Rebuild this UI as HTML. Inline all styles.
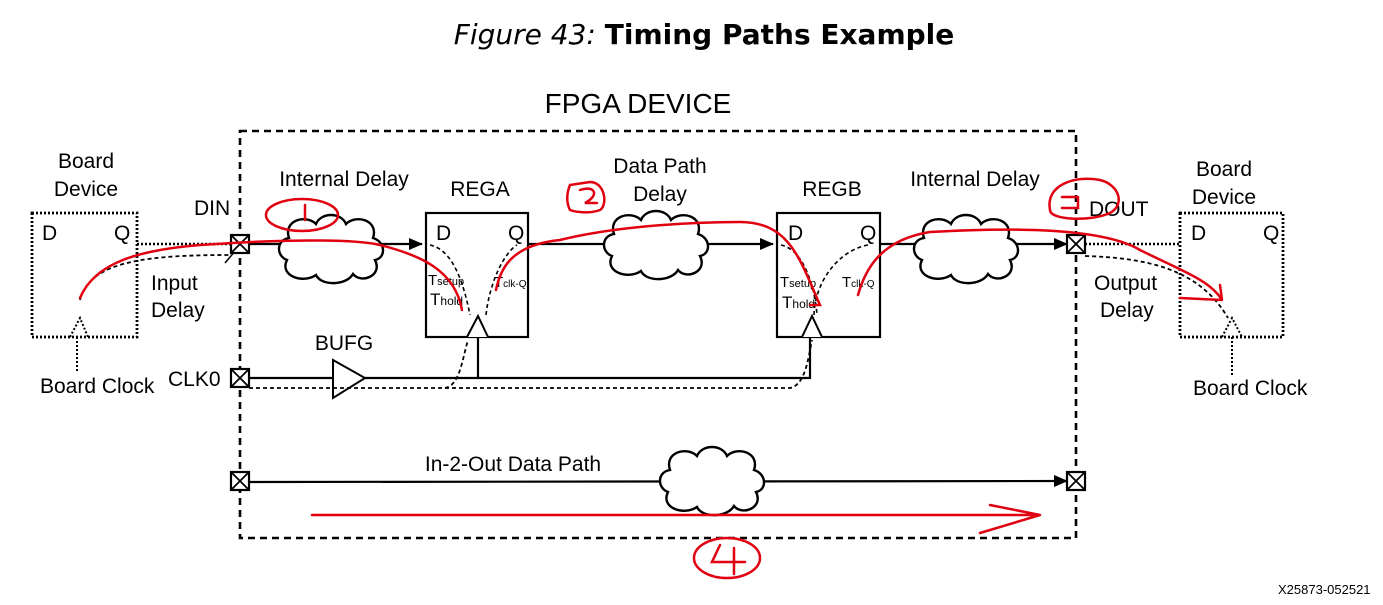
<!DOCTYPE html>
<html><head><meta charset="utf-8"><style>
html,body{margin:0;padding:0;background:#fff;}
svg{display:block;font-family:"Liberation Sans",sans-serif;}
</style></head><body>
<svg width="1383" height="605" viewBox="0 0 1383 605" xmlns="http://www.w3.org/2000/svg">
<defs>
<path id="cloud" d="M-42,-12 C-48,-30 -25,-36 -15,-26 C-10,-38 10,-38 15,-26 C25,-36 48,-30 42,-12 C55,-8 55,8 44,10 C52,26 30,34 22,24 C15,36 -10,36 -15,25 C-28,34 -52,26 -44,10 C-55,6 -55,-10 -42,-12 Z" fill="#fff" stroke="#000" stroke-width="2.4"/>
<marker id="ar" markerWidth="14" markerHeight="12" refX="13" refY="6" orient="auto" markerUnits="userSpaceOnUse"><path d="M0,0 L14,6 L0,12 Z" fill="#000"/></marker>
<g id="pad"><rect x="-9" y="-9" width="18" height="18" fill="#fff" stroke="#000" stroke-width="2.2"/><path d="M-9,-9 L9,9 M9,-9 L-9,9" stroke="#000" stroke-width="1.8"/></g>
</defs>

<text x="704" y="44" font-size="28" text-anchor="middle" font-family="'DejaVu Sans',sans-serif"><tspan font-style="italic">Figure 43:</tspan> <tspan font-weight="bold">Timing Paths Example</tspan></text>
<text x="638" y="113" font-size="28" text-anchor="middle">FPGA DEVICE</text>

<rect x="240" y="131" width="836" height="407" fill="none" stroke="#000" stroke-width="2.6" stroke-dasharray="7,5"/>

<!-- board device left -->
<rect x="32" y="213" width="105" height="124" fill="none" stroke="#000" stroke-width="2.8" stroke-dasharray="2,2"/>
<text x="86" y="168" font-size="21" text-anchor="middle">Board</text>
<text x="86" y="196" font-size="21" text-anchor="middle">Device</text>
<text x="42" y="240" font-size="21">D</text>
<text x="114" y="240" font-size="21">Q</text>
<path d="M70,337 L80,318 L88,337" fill="none" stroke="#000" stroke-width="2" stroke-dasharray="2,2"/>
<line x1="77" y1="337" x2="77" y2="372" stroke="#000" stroke-width="2" stroke-dasharray="2,2"/>
<text x="40" y="393" font-size="21">Board Clock</text>
<line x1="137" y1="244" x2="231" y2="244" stroke="#000" stroke-width="2.4" stroke-dasharray="2,2"/>
<path d="M80,300 C90,260 150,255 232,255" fill="none" stroke="#000" stroke-width="1.8" stroke-dasharray="4,3"/>
<line x1="225" y1="263" x2="236" y2="250" stroke="#000" stroke-width="1.5"/>
<text x="151" y="290" font-size="21">Input</text>
<text x="151" y="317" font-size="21">Delay</text>
<text x="194" y="215" font-size="21">DIN</text>

<!-- data path -->
<line x1="249" y1="244" x2="422" y2="244" stroke="#000" stroke-width="2.2" marker-end="url(#ar)"/>
<use href="#cloud" x="331" y="250"/>
<text x="344" y="186" font-size="21" text-anchor="middle">Internal Delay</text>

<!-- REGA -->
<rect x="426" y="213" width="102" height="124" fill="#fff" stroke="#000" stroke-width="2.2"/>
<text x="480" y="196" font-size="21" text-anchor="middle">REGA</text>
<text x="436" y="240" font-size="21">D</text>
<text x="508" y="240" font-size="21">Q</text>
<text x="428" y="285" font-size="15">T<tspan font-size="11">setup</tspan></text>
<text x="430" y="305" font-size="17">T<tspan font-size="12">hold</tspan></text>
<text x="494" y="287" font-size="15">T<tspan font-size="10">clk-Q</tspan></text>
<path d="M467,337 L478,316 L488,337" fill="#fff" stroke="#000" stroke-width="2"/>
<path d="M430,245 C455,250 465,290 470,315" fill="none" stroke="#000" stroke-width="1.6" stroke-dasharray="4,3"/>
<path d="M486,315 C490,280 505,252 517,245" fill="none" stroke="#000" stroke-width="1.6" stroke-dasharray="4,3"/>

<line x1="528" y1="244" x2="773" y2="244" stroke="#000" stroke-width="2.2" marker-end="url(#ar)"/>
<use href="#cloud" x="656" y="246"/>
<text x="660" y="173" font-size="21" text-anchor="middle">Data Path</text>
<text x="660" y="201" font-size="21" text-anchor="middle">Delay</text>

<!-- REGB -->
<rect x="777" y="213" width="103" height="124" fill="#fff" stroke="#000" stroke-width="2.2"/>
<text x="832" y="196" font-size="21" text-anchor="middle">REGB</text>
<text x="788" y="240" font-size="21">D</text>
<text x="860" y="240" font-size="21">Q</text>
<text x="780" y="287" font-size="15">T<tspan font-size="11">setup</tspan></text>
<text x="782" y="308" font-size="17">T<tspan font-size="12">hold</tspan></text>
<text x="842" y="287" font-size="15">T<tspan font-size="10">clk-Q</tspan></text>
<path d="M802,337 L812,316 L822,337" fill="#fff" stroke="#000" stroke-width="2"/>
<path d="M781,245 C805,250 815,290 817,315" fill="none" stroke="#000" stroke-width="1.6" stroke-dasharray="4,3"/>
<path d="M814,315 C815,280 840,250 868,245" fill="none" stroke="#000" stroke-width="1.6" stroke-dasharray="4,3"/>

<line x1="880" y1="244" x2="1067" y2="244" stroke="#000" stroke-width="2.2" marker-end="url(#ar)"/>
<use href="#cloud" x="966" y="250"/>
<text x="975" y="186" font-size="21" text-anchor="middle">Internal Delay</text>
<text x="1089" y="216" font-size="21">DOUT</text>

<!-- right board device -->
<line x1="1085" y1="244" x2="1180" y2="244" stroke="#000" stroke-width="2.4" stroke-dasharray="2,2"/>
<path d="M1085,256 C1150,258 1200,270 1228,318" fill="none" stroke="#000" stroke-width="1.8" stroke-dasharray="4,3"/>
<rect x="1180" y="213" width="103" height="124" fill="none" stroke="#000" stroke-width="2.8" stroke-dasharray="2,2"/>
<text x="1224" y="176" font-size="21" text-anchor="middle">Board</text>
<text x="1224" y="204" font-size="21" text-anchor="middle">Device</text>
<text x="1191" y="240" font-size="21">D</text>
<text x="1263" y="240" font-size="21">Q</text>
<path d="M1222,337 L1232,318 L1242,337" fill="none" stroke="#000" stroke-width="2" stroke-dasharray="2,2"/>
<line x1="1232" y1="337" x2="1232" y2="375" stroke="#000" stroke-width="2" stroke-dasharray="2,2"/>
<text x="1193" y="395" font-size="21">Board Clock</text>
<text x="1094" y="290" font-size="21">Output</text>
<text x="1100" y="317" font-size="21">Delay</text>

<!-- clock -->
<text x="168" y="386" font-size="21">CLK0</text>
<line x1="249" y1="378" x2="333" y2="378" stroke="#000" stroke-width="2.2"/>
<path d="M333,360 L365,378 L333,398 Z" fill="#fff" stroke="#000" stroke-width="2"/>
<text x="344" y="350" font-size="21" text-anchor="middle">BUFG</text>
<line x1="365" y1="378" x2="811" y2="378" stroke="#000" stroke-width="2.2"/>
<line x1="478" y1="378" x2="478" y2="337" stroke="#000" stroke-width="2.2"/>
<line x1="810" y1="379" x2="810" y2="337" stroke="#000" stroke-width="2.2"/>
<path d="M249,388 L445,388 C460,385 462,360 468,340" fill="none" stroke="#000" stroke-width="1.8" stroke-dasharray="4,3"/>
<path d="M445,388 L790,388 C805,385 808,360 812,340" fill="none" stroke="#000" stroke-width="1.8" stroke-dasharray="4,3"/>

<!-- in-2-out -->
<line x1="249" y1="482" x2="1067" y2="481" stroke="#000" stroke-width="2.2" marker-end="url(#ar)"/>
<use href="#cloud" x="712" y="482"/>
<text x="513" y="471" font-size="21" text-anchor="middle">In-2-Out Data Path</text>

<use href="#pad" x="240" y="244"/>
<use href="#pad" x="1076" y="244"/>
<use href="#pad" x="240" y="378"/>
<use href="#pad" x="240" y="481"/>
<use href="#pad" x="1076" y="481"/>

<!-- red annotations -->
<g fill="none" stroke="#e00010" stroke-width="2.5" stroke-linecap="round">
<path d="M80,298 C95,262 140,250 200,245 C300,238 360,240 380,245 C420,255 455,270 462,310"/>
<path d="M496,290 C500,270 510,245 560,240 C620,225 700,222 740,222 C790,222 800,260 820,305 L810,305"/>
<path d="M858,295 C865,270 880,240 930,232 C1000,228 1100,226 1140,250 C1180,270 1210,280 1222,300 L1220,285 M1222,300 L1180,298"/>
<path d="M312,515 L1040,515 M980,533 L1040,515 L990,505"/>
<ellipse cx="302" cy="215" rx="36" ry="16"/>
<path d="M305,205 L305,220"/>
<path d="M570,185 L590,182 C605,182 608,205 600,210 C590,214 575,212 570,210 C565,200 568,190 570,185 Z"/>
<path d="M580,190 C595,185 600,195 585,203 L597,203"/>
<path d="M1050,210 C1045,185 1075,175 1100,180 C1120,185 1125,205 1110,213 C1090,222 1050,220 1050,210 Z"/>
<path d="M1062,197 L1078,197 M1078,197 L1078,208 L1062,208"/>
<ellipse cx="727" cy="558" rx="33" ry="20"/>
<path d="M720,545 L712,562 L745,562 M734,548 L734,574"/>
</g>

<text x="1278" y="594" font-size="13">X25873-052521</text>
</svg>
</body></html>
